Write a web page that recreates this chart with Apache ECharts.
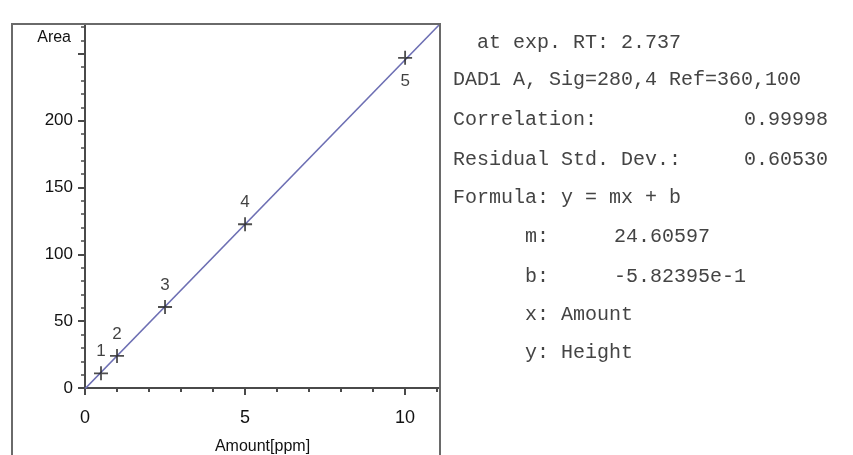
<!DOCTYPE html>
<html>
<head>
<meta charset="utf-8">
<script src="https://cdn.jsdelivr.net/npm/echarts@6/dist/echarts.min.js"></script>
<style>
html,body{margin:0;padding:0;background:#fff;}
#c{width:853px;height:455px;}
</style>
</head>
<body>
<div id="c"></div>
<script>
// Calibration points
const amounts = [0.5, 1, 2.5, 5, 10];
const areas = [11, 24, 60.6, 122.5, 247];
const pointLabels = ['1', '2', '3', '4', '5'];
// Fitted line end points
const fitX = [0, 11.09];
const fitY = [-0.58, 272.3];
// Axis ranges / ticks
const xMax = 11.09;
const yMax = 272.3;
const xLabelTicks = [0, 5, 10];
const yLabelTicks = [0, 50, 100, 150, 200];
// Report text
const reportLines = [
  '  at exp. RT: 2.737',
  'DAD1 A, Sig=280,4 Ref=360,100',
  'Correlation:',
  'Residual Std. Dev.:',
  'Formula: y = mx + b',
  '      m:',
  '      b:',
  '      x: Amount',
  '      y: Height'
];
const reportValues = ['', '', '0.99998', '0.60530', '', '24.60597', '-5.82395e-1', '', ''];
const reportValueAlign = ['', '', 'right', 'right', '', 'left', 'left', '', ''];

const chart = echarts.init(document.getElementById('c'));
const axisColor = '#4a4a4a';
const txtColor = '#111';
const monoFont = '20px "Courier New", "Liberation Mono", monospace';
const plusPath = 'path://M4.35,0h1.3v4.35h4.35v1.3h-4.35v4.35h-1.3v-4.35h-4.35v-1.3h4.35z';

const lineYs = [43, 80, 120, 160, 198, 237, 277, 315, 353];
const graphics = [];
// outer frame
graphics.push({type:'polyline', shape:{points:[[12,456],[12,24],[440,24],[440,456]]}, style:{stroke:'#6a6a6a', lineWidth:2, fill:null}, z:10});
reportLines.forEach((t, i) => {
  graphics.push({type:'text', x:453, y:lineYs[i], style:{text:t, font:monoFont, fill:'#444', verticalAlign:'middle', align:'left'}});
  if (reportValues[i]) {
    const right = reportValueAlign[i] === 'right';
    graphics.push({type:'text', x: right ? 828 : 614, y:lineYs[i], style:{text:reportValues[i], font:monoFont, fill:'#444', verticalAlign:'middle', align: right ? 'right' : 'left'}});
  }
});

const scatterData = amounts.map((x, i) => ({
  value: [x, areas[i]],
  label: i === amounts.length - 1 ? {position: 'bottom', distance: 8} : {position: 'top', distance: 6}
}));

chart.setOption({
  animation: false,
  backgroundColor: '#fff',
  grid: {left: 85, top: 24, right: 413, bottom: 67, containLabel: false, outerBoundsMode: 'none'},
  xAxis: [
    {type:'value', min:0, max:xMax, interval:5,
     name:'Amount[ppm]', nameLocation:'middle', nameGap:51,
     nameTextStyle:{fontFamily:'Liberation Sans', fontSize:16, color:txtColor},
     axisLine:{lineStyle:{color:axisColor, width:2}},
     axisTick:{length:7, lineStyle:{color:axisColor, width:2}},
     axisLabel:{margin:21, fontFamily:'Liberation Sans', fontSize:18, color:txtColor,
       formatter: v => xLabelTicks.includes(v) ? String(v) : ''},
     splitLine:{show:false}},
    {type:'value', min:0, max:xMax, interval:1, position:'bottom',
     axisLine:{show:false},
     axisTick:{length:4, lineStyle:{color:axisColor, width:2}},
     axisLabel:{show:false}, splitLine:{show:false}}
  ],
  yAxis: [
    {type:'value', min:0, max:yMax, interval:50,
     name:'Area', nameLocation:'end', nameGap:-14,
     nameTextStyle:{fontFamily:'Liberation Sans', fontSize:16, color:txtColor, align:'right', verticalAlign:'middle', padding:[0,14,0,0]},
     axisLine:{lineStyle:{color:axisColor, width:2}},
     axisTick:{length:7, lineStyle:{color:axisColor, width:2}},
     axisLabel:{margin:12, fontFamily:'Liberation Sans', fontSize:17, color:txtColor,
       formatter: v => yLabelTicks.includes(v) ? String(v) : ''},
     splitLine:{show:false}},
    {type:'value', min:0, max:yMax, interval:10, position:'left',
     axisLine:{show:false},
     axisTick:{length:4, lineStyle:{color:axisColor, width:1.5}},
     axisLabel:{show:false}, splitLine:{show:false}}
  ],
  series: [
    {type:'line', data: fitX.map((x, i) => [x, fitY[i]]), showSymbol:false, symbol:'none',
     lineStyle:{color:'#6d6fb3', width:1.6}, clip:true, z:2},
    {type:'scatter', data: scatterData, symbol: plusPath, symbolSize: 14,
     itemStyle:{color:'#222'}, z:3,
     label:{show:true, formatter: p => pointLabels[p.dataIndex], fontFamily:'Liberation Sans', fontSize:17, color:txtColor}}
  ],
  graphic: graphics
});
</script>
</body>
</html>
